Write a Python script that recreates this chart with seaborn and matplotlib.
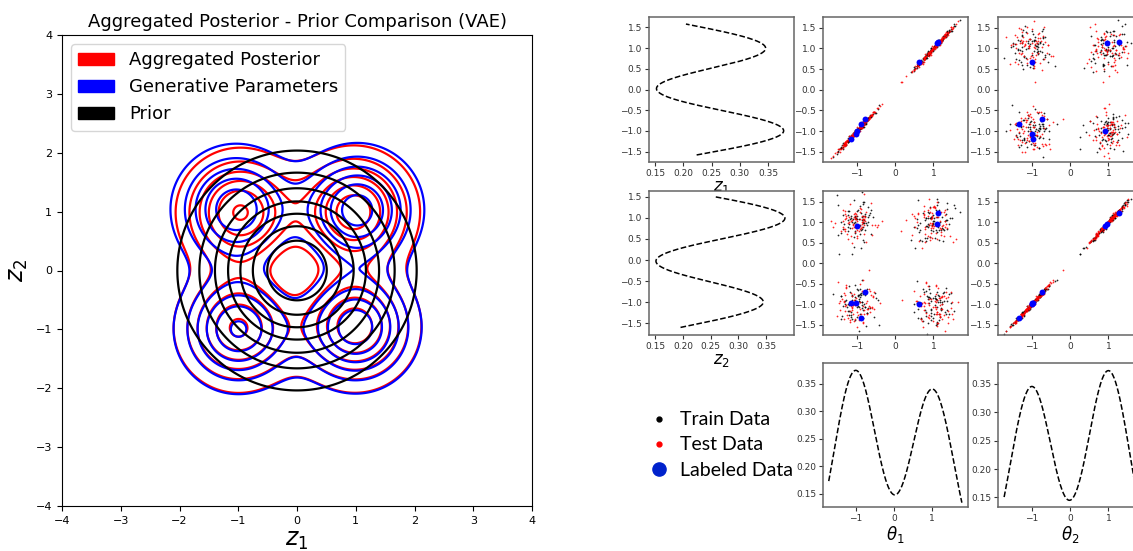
import numpy as np
import pandas as pd
import matplotlib
matplotlib.use("Agg")
import matplotlib.pyplot as plt
import seaborn as sns
from matplotlib.patches import Patch
from matplotlib.lines import Line2D

# ---------------- Left panel: Gaussian-mixture contour data ----------------
post_mx = [-0.97, 0.97, -1.00, 0.99]
post_my = [0.99, 1.00, -0.98, -0.95]
post_weight = [0.254, 0.280, 0.257, 0.282]
post_sigma = [0.576, 0.576, 0.576, 0.576]
gen_mx = [-1.04, 1.03, -1.00, 1.00]
gen_my = [1.04, 1.03, -1.00, -0.97]
gen_weight = [0.258, 0.283, 0.257, 0.279]
gen_sigma = [0.592, 0.586, 0.578, 0.574]
mixture_levels = [0.02, 0.04, 0.06, 0.08, 0.10, 0.12]
prior_levels = [0.02, 0.04, 0.06, 0.08, 0.10, 0.12, 0.14]
left_ticks = [-4, -3, -2, -1, 0, 1, 2, 3, 4]

# ---------------- Right panels: labeled points ----------------
lab_theta1 = [0.62, 1.10, 1.12, -0.88, -0.78, -1.03, -1.16, -1.00]
lab_theta2 = [-1.00, 0.95, 1.27, -1.32, -0.72, -1.00, -0.98, 0.92]
lab_z1 = [0.66, 1.12, 1.15, -0.83, -0.71, -1.07, -1.19, -1.00]
lab_z2 = [-1.00, 0.95, 1.22, -1.33, -0.69, -0.98, -0.96, 0.90]

# sample clouds (train / test) around four latent clusters
cluster_cx = [-1.0, 1.0, -1.0, 1.0]
cluster_cy = [1.0, 1.0, -1.0, -1.0]
cluster_spread = 0.27
latent_noise = 0.03
n_train_per_cluster = 75
n_test_per_cluster = 75

# marginal density curves (two bumps at -1 / +1)
marg_centres = [-1.0, 1.0]
z1_peaks = [0.377, 0.345]
z1_width = 0.567
z1_range = [-1.58, 1.58]
z2_peaks = [0.344, 0.383]
z2_width = 0.565
z2_range = [-1.60, 1.50]
t1_peaks = [0.374, 0.340]
t1_width = 0.564
t1_range = [-1.70, 1.77]
t2_peaks = [0.345, 0.373]
t2_width = 0.559
t2_range = [-1.72, 1.78]

legend_labels = ["Train Data", "Test Data", "Labeled Data"]

# ---------------------------------------------------------------------------
W, H = 1133, 551
fig = plt.figure(figsize=(W / 100, H / 100), dpi=100)
fig.patch.set_facecolor("white")


def ax_px(l, t, r, b):
    return fig.add_axes([l / W, 1 - b / H, (r - l) / W, (b - t) / H])


def mixture(X, Y, mx, my, w, s):
    Z = np.zeros_like(X)
    for a, b, ww, ss in zip(mx, my, w, s):
        Z += ww / (2 * np.pi * ss ** 2) * np.exp(-((X - a) ** 2 + (Y - b) ** 2) / (2 * ss ** 2))
    return Z


# ---------------- Left panel ----------------
axL = ax_px(62, 35, 532, 506)
g = np.linspace(-4, 4, 600)
X, Y = np.meshgrid(g, g)
Zp = mixture(X, Y, post_mx, post_my, post_weight, post_sigma)
Zg = mixture(X, Y, gen_mx, gen_my, gen_weight, gen_sigma)
Zprior = np.exp(-(X ** 2 + Y ** 2) / 2) / (2 * np.pi)
axL.contour(X, Y, Zp, levels=mixture_levels, colors="red", linewidths=1.6)
axL.contour(X, Y, Zg, levels=mixture_levels, colors="blue", linewidths=1.6)
axL.contour(X, Y, Zprior, levels=prior_levels, colors="black", linewidths=1.6)
axL.set_xlim(-4, 4)
axL.set_ylim(-4, 4)
axL.set_xticks(left_ticks)
axL.set_yticks(left_ticks)
axL.tick_params(labelsize=8)
axL.set_title("Aggregated Posterior - Prior Comparison (VAE)", fontsize=13)
axL.set_xlabel("$z_1$", fontsize=17, labelpad=2)
axL.set_ylabel("$z_2$", fontsize=17, labelpad=4)
handles = [Patch(color="red", label="Aggregated Posterior"),
           Patch(color="blue", label="Generative Parameters"),
           Patch(color="black", label="Prior")]
axL.legend(handles=handles, loc="upper left", fontsize=13)

# ---------------- Right panels ----------------
cols = [(649, 794), (823, 968), (998, 1143)]
rows = [(17, 162), (191, 335), (363, 507)]


def grid_ax(r, c):
    l, rr = cols[c]
    t, b = rows[r]
    ax = ax_px(l, t, rr, b)
    ax.tick_params(labelsize=6.5, length=3, width=0.8, colors="#333333", pad=2)
    for sp in ax.spines.values():
        sp.set_color("#666666")
        sp.set_linewidth(1.1)
    return ax


rng = np.random.default_rng(11)


def cloud(n):
    t1 = np.concatenate([cx + rng.normal(0, cluster_spread, n) for cx in cluster_cx])
    t2 = np.concatenate([cy + rng.normal(0, cluster_spread, n) for cy in cluster_cy])
    z1 = t1 + rng.normal(0, latent_noise, t1.size)
    z2 = t2 + rng.normal(0, latent_noise, t2.size)
    return pd.DataFrame({"theta1": t1, "theta2": t2, "z1": z1, "z2": z2})


train = cloud(n_train_per_cluster)
test = cloud(n_test_per_cluster)
lab = pd.DataFrame({"theta1": lab_theta1, "theta2": lab_theta2, "z1": lab_z1, "z2": lab_z2})


def bumps(x, peaks, width):
    return sum(p * np.exp(-(x - c) ** 2 / (2 * width ** 2)) for p, c in zip(peaks, marg_centres))


def scatter_panel(ax, xcol, ycol):
    sns.scatterplot(data=train, x=xcol, y=ycol, s=1.6, color="black", linewidth=0, alpha=0.85, ax=ax)
    sns.scatterplot(data=test, x=xcol, y=ycol, s=1.6, color="red", linewidth=0, alpha=0.85, ax=ax)
    sns.scatterplot(data=lab, x=xcol, y=ycol, s=18, color="blue", linewidth=0, ax=ax)
    ax.set_xlim(-1.88, 1.9)
    ax.set_ylim(-1.75, 1.76)
    ax.set_xticks([-1, 0, 1])
    ax.set_yticks([-1.5, -1.0, -0.5, 0.0, 0.5, 1.0, 1.5])
    ax.set_xlabel("")
    ax.set_ylabel("")


# row 0
a00 = grid_ax(0, 0)
zz = np.linspace(z1_range[0], z1_range[1], 300)
sns.lineplot(x=bumps(zz, z1_peaks, z1_width), y=zz, sort=False, estimator=None,
             color="black", linestyle="--", linewidth=1.1, ax=a00)
a00.set_xlim(0.139, 0.396)
a00.set_ylim(-1.75, 1.75)
a00.set_xticks([0.15, 0.20, 0.25, 0.30, 0.35])
a00.set_yticks([-1.5, -1.0, -0.5, 0.0, 0.5, 1.0, 1.5])
a00.set_xlabel("$z_1$", fontsize=12, labelpad=0)
a00.set_ylabel("")

a01 = grid_ax(0, 1)
scatter_panel(a01, "theta1", "z1")
a02 = grid_ax(0, 2)
scatter_panel(a02, "theta2", "z1")

# row 1
a10 = grid_ax(1, 0)
zz = np.linspace(z2_range[0], z2_range[1], 300)
sns.lineplot(x=bumps(zz, z2_peaks, z2_width), y=zz, sort=False, estimator=None,
             color="black", linestyle="--", linewidth=1.1, ax=a10)
a10.set_xlim(0.139, 0.40)
a10.set_ylim(-1.78, 1.64)
a10.set_xticks([0.15, 0.20, 0.25, 0.30, 0.35])
a10.set_yticks([-1.5, -1.0, -0.5, 0.0, 0.5, 1.0, 1.5])
a10.set_xlabel("$z_2$", fontsize=12, labelpad=0)
a10.set_ylabel("")

a11 = grid_ax(1, 1)
scatter_panel(a11, "theta1", "z2")
a12 = grid_ax(1, 2)
scatter_panel(a12, "theta2", "z2")

# row 2
a21 = grid_ax(2, 1)
tt = np.linspace(t1_range[0], t1_range[1], 300)
sns.lineplot(x=tt, y=bumps(tt, t1_peaks, t1_width), sort=False, estimator=None,
             color="black", linestyle="--", linewidth=1.1, ax=a21)
a21.set_xlim(-1.85, 1.93)
a21.set_ylim(0.126, 0.388)
a21.set_xticks([-1, 0, 1])
a21.set_yticks([0.15, 0.20, 0.25, 0.30, 0.35])
a21.set_xlabel(r"$\theta_1$", fontsize=12, labelpad=1)
a21.set_ylabel("")

a22 = grid_ax(2, 2)
tt = np.linspace(t2_range[0], t2_range[1], 300)
sns.lineplot(x=tt, y=bumps(tt, t2_peaks, t2_width), sort=False, estimator=None,
             color="black", linestyle="--", linewidth=1.1, ax=a22)
a22.set_xlim(-1.88, 1.9)
a22.set_ylim(0.133, 0.387)
a22.set_xticks([-1, 0, 1])
a22.set_yticks([0.15, 0.20, 0.25, 0.30, 0.35])
a22.set_xlabel(r"$\theta_2$", fontsize=12, labelpad=1)
a22.set_ylabel("")

# legend for the right block
leg_handles = [
    Line2D([], [], marker="o", linestyle="", color="black", markersize=3.5),
    Line2D([], [], marker="o", linestyle="", color="red", markersize=3.5),
    Line2D([], [], marker="o", linestyle="", color="#0022cc", markersize=9.5),
]
fig.legend(leg_handles, legend_labels, loc="center left",
           bbox_to_anchor=(641 / W, 1 - 445 / H), frameon=False,
           prop={"family": ["Lato", "DejaVu Sans"], "size": 14},
           handletextpad=0.6, labelspacing=0.42, handlelength=1.0,
           borderaxespad=0.0)

fig.savefig("out.png", dpi=100, facecolor="white")
